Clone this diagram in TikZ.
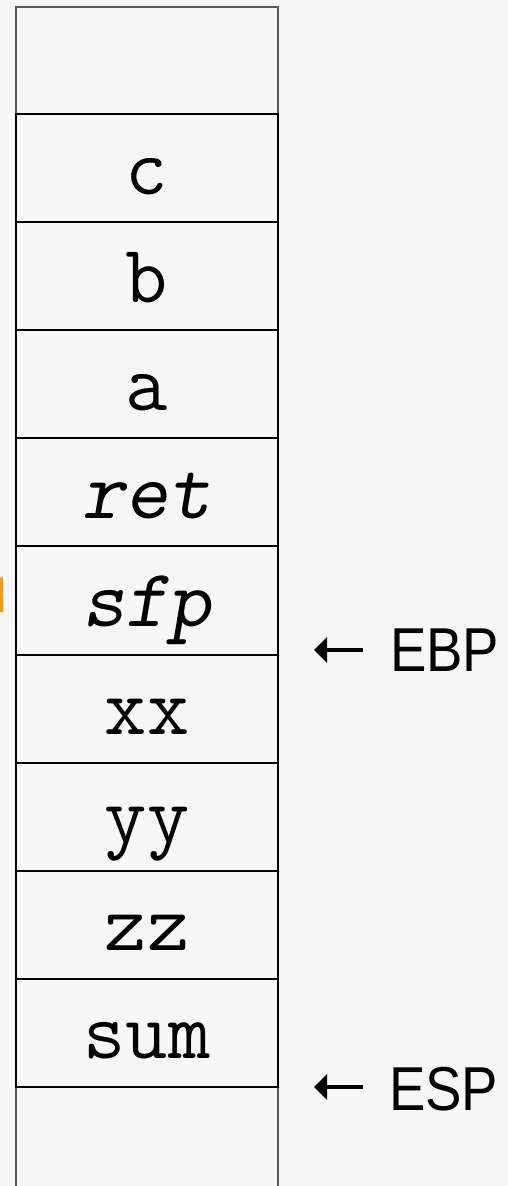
\documentclass[tikz,border=0pt]{standalone}
\usepackage{fontspec}
\newfontfamily\labelfont[FakeStretch=0.88]{Liberation Sans}
\usetikzlibrary{arrows.meta}
\definecolor{paper}{HTML}{F7F7F7}
\definecolor{edgegray}{HTML}{5A5A5A}
\definecolor{markorange}{HTML}{FF9A00}
\tikzset{
  slot/.style={draw=black, line width=2pt, rectangle, inner sep=0pt,
    minimum width=262pt, minimum height=108.1pt,
    text height=60pt, text depth=8pt,
    font=\fontsize{82}{82}\selectfont\ttfamily},
  reglabel/.style={anchor=west, inner sep=0pt,
    font=\fontsize{62}{62}\selectfont\labelfont},
  pointer/.style={line width=4pt, -{Triangle[length=13pt,width=25pt]}}
}
\begin{document}
\begin{tikzpicture}[x=1pt,y=-1pt]
  % page and background
  \fill[paper] (0,0) rectangle (508,1186);
  \useasboundingbox (0,0) rectangle (508,1186);

  % open slots above and below the frame
  \draw[edgegray, line width=1.5pt] (16,113) -- (16,7) -- (278,7) -- (278,113);
  \draw[edgegray, line width=1.5pt] (16,1086) -- (16,1186);
  \draw[edgegray, line width=1.5pt] (278,1086) -- (278,1186);

  % stack slots, top to bottom
  \node[slot] (c)   at (147,168.05)  {c};
  \node[slot] (b)   at (147,276.15)  {b};
  \node[slot] (a)   at (147,384.25)  {a};
  \node[slot] (ret) at (147,492.35)  {\slshape ret};
  \node[slot] (sfp) at (147,600.45)  {\slshape sfp};
  \node[slot] (xx)  at (147,708.55)  {xx};
  \node[slot] (yy)  at (147,816.65)  {yy};
  \node[slot] (zz)  at (147,924.75)  {zz};
  \node[slot] (sum) at (147,1032.85) {sum};

  % register pointers
  \node[reglabel] (ebp) at (390,650)  {EBP};
  \node[reglabel] (esp) at (389,1089) {ESP};
  \coordinate (ebptip) at (314,650);
  \coordinate (esptip) at (314,1087);
  \draw[pointer] ([xshift=-27pt]ebp.west) -- (ebptip);
  \draw[pointer] ([xshift=-26pt,yshift=2pt]esp.west) -- (esptip);

  % orange mark at the left edge
  \fill[markorange] (0,578) -- (3,577) -- (3.5,612) -- (0,612) -- cycle;
\end{tikzpicture}
\end{document}
